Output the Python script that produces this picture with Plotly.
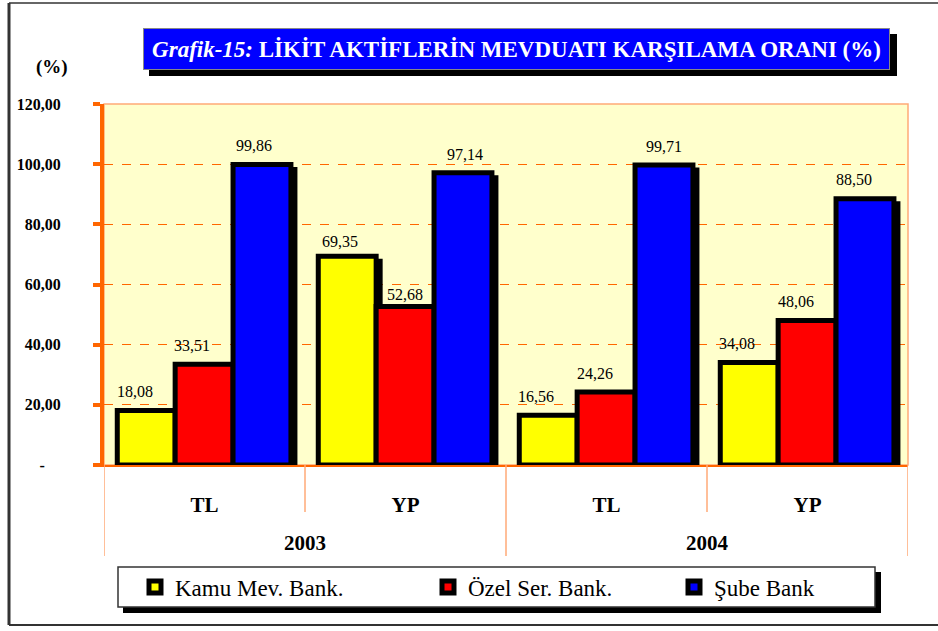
import plotly.graph_objects as go

# ---- data ----
sub_labels = ["TL", "YP", "TL", "YP"]
year_labels = ["2003", "2004"]
series_names = ["Kamu Mev. Bank.", "Özel Ser. Bank.", "Şube Bank"]
kamu = [18.08, 69.35, 16.56, 34.08]
ozel = [33.51, 52.68, 24.26, 48.06]
sube = [99.86, 97.14, 99.71, 88.50]
y_ticks = [0, 20, 40, 60, 80, 100, 120]
y_ticktext = ["-\u00a0\u00a0\u00a0\u00a0", "20,00", "40,00", "60,00", "80,00", "100,00", "120,00"]

# ---- style ----
colors = ["#FFFF00", "#FF0000", "#0000FF"]
values = [kamu, ozel, sube]
label_dx = [[-11, -7, -12, -12], [-12, 0, -11, -11], [-8, 2, 0, -11]]
label_dy = [[19, 15, 19, 19], [19, 12, 19, 19], [19, 18, 19, 19]]
legend_ids = ["legend", "legend2", "legend3"]
legend_text_x = [175, 468, 714]

W, H = 938, 631
ML, MR, MT, MB = 104, 30, 104, 166
PW, PH = W - ML - MR, H - MT - MB
SERIF = "Liberation Serif, Times New Roman, serif"
ORANGE = "#FF6600"
LORANGE = "#FFAA77"

def px(x):
    return (x - ML) / PW

def py(y):
    return (H - MB - y) / PH

xpos = list(range(len(sub_labels)))
bw = 0.288
offsets = [-0.434, -0.146, 0.142]
dx = 4 / (PW / 4)
dy = 5 / (PH / 120)

fig = go.Figure()
# shadows
for vals, off in zip(values, offsets):
    fig.add_trace(go.Bar(
        x=xpos, y=[v - dy for v in vals], width=bw, offset=off + dx,
        marker=dict(color="black", line=dict(color="black", width=5)),
        showlegend=False, hoverinfo="skip"))
# bars
for name, vals, off, c, lg in zip(series_names, values, offsets, colors, legend_ids):
    fig.add_trace(go.Bar(
        x=xpos, y=vals, width=bw, offset=off, name=name, legend=lg,
        marker=dict(color=c, line=dict(color="black", width=5))))

annotations = []
for vals, off, ldx, ldy in zip(values, offsets, label_dx, label_dy):
    for xi, v, sx, sy in zip(xpos, vals, ldx, ldy):
        annotations.append(dict(
            x=xi + off + bw / 2, y=v, xref="x", yref="y",
            text=f"{v:.2f}".replace(".", ","), showarrow=False,
            xshift=sx, yshift=sy, yanchor="middle",
            font=dict(family=SERIF, size=16, color="black")))

# year labels
for i, yl in enumerate(year_labels):
    annotations.append(dict(
        x=2 * i + 0.5, y=py(543), xref="x", yref="paper", text=yl,
        showarrow=False, yanchor="middle",
        font=dict(family=SERIF, size=21, color="black", weight="bold")))

# (%) label
annotations.append(dict(x=px(52), y=py(67), xref="paper", yref="paper",
                        text="(%)", showarrow=False, xanchor="center", yanchor="middle",
                        font=dict(family=SERIF, size=19, color="black", weight="bold")))

# title
title_text = "<i>Grafik-15:</i> LİKİT AKTİFLERİN MEVDUATI KARŞILAMA ORANI (%)"
annotations.append(dict(
    x=px(516.5), y=py(49), xref="paper", yref="paper", text=title_text,
    showarrow=False, xanchor="center", yanchor="middle",
    width=745, height=40, borderpad=0,
    bgcolor="#0000FF", bordercolor="#888888", borderwidth=1,
    font=dict(family=SERIF, size=23, color="white", weight="bold")))

shapes = []
# title shadow
shapes.append(dict(type="rect", xref="paper", yref="paper",
                   x0=px(149), x1=px(897), y0=py(34), y1=py(76),
                   fillcolor="black", line=dict(width=0)))
# plot border (thin light orange)
shapes.append(dict(type="rect", xref="paper", yref="paper", x0=0, x1=1, y0=0, y1=1,
                   line=dict(color=LORANGE, width=1.5), layer="between"))
# separators below axis
for xb in [-0.5, 1.5, 3.5]:
    shapes.append(dict(type="line", xref="x", yref="paper", x0=xb, x1=xb,
                       y0=0, y1=py(556), line=dict(color=LORANGE, width=1.5)))
for xb in [0.5, 2.5]:
    shapes.append(dict(type="line", xref="x", yref="paper", x0=xb, x1=xb,
                       y0=0, y1=py(512), line=dict(color=LORANGE, width=1.5)))
# legend box + shadow
shapes.append(dict(type="rect", xref="paper", yref="paper",
                   x0=px(123), x1=px(881), y0=py(572), y1=py(613),
                   fillcolor="black", line=dict(width=0)))
shapes.append(dict(type="rect", xref="paper", yref="paper",
                   x0=px(118), x1=px(875), y0=py(567), y1=py(607),
                   fillcolor="white", line=dict(color="#333333", width=1.5)))
# outer frame
shapes.append(dict(type="line", xref="paper", yref="paper", x0=px(9), x1=px(938),
                   y0=py(3), y1=py(3), line=dict(color="#333333", width=1.5)))
shapes.append(dict(type="line", xref="paper", yref="paper", x0=px(9), x1=px(938),
                   y0=py(625), y1=py(625), line=dict(color="#333333", width=2)))
shapes.append(dict(type="line", xref="paper", yref="paper", x0=px(9), x1=px(9),
                   y0=py(3), y1=py(625), line=dict(color="#333333", width=3)))

legend_common = dict(orientation="h", yanchor="middle", xanchor="left",
                     bgcolor="rgba(0,0,0,0)", borderwidth=0, itemwidth=30,
                     font=dict(family=SERIF, size=23, color="black"))
legends = {}
for lg, tx in zip(legend_ids, legend_text_x):
    legends[lg] = dict(legend_common, x=px(tx - 40), y=py(587))

fig.update_layout(
    width=W, height=H,
    margin=dict(l=ML, r=MR, t=MT, b=MB, autoexpand=False),
    paper_bgcolor="white", plot_bgcolor="#FFFFCC",
    barmode="overlay",
    showlegend=True,
    xaxis=dict(range=[-0.5, 3.5], tickvals=xpos, ticktext=sub_labels,
               showgrid=False, zeroline=False, showline=True, linecolor=ORANGE,
               linewidth=2, ticks="", ticklabelstandoff=20,
               tickfont=dict(family=SERIF, size=21, color="black", weight="bold")),
    yaxis=dict(range=[0, 120], tickvals=y_ticks, ticktext=y_ticktext,
               showgrid=True, gridcolor=ORANGE, griddash="dash", gridwidth=1,
               zeroline=False, showline=True, linecolor=ORANGE, linewidth=4,
               ticks="outside", ticklen=7, tickwidth=4, tickcolor=ORANGE,
               ticklabelstandoff=29,
               tickfont=dict(family=SERIF, size=16, color="black", weight="bold")),
    annotations=annotations,
    shapes=shapes,
    **legends,
)

fig.write_html("out.html", config={"displayModeBar": False},
               post_script="document.body.style.margin='0';document.body.style.overflow='hidden';")
